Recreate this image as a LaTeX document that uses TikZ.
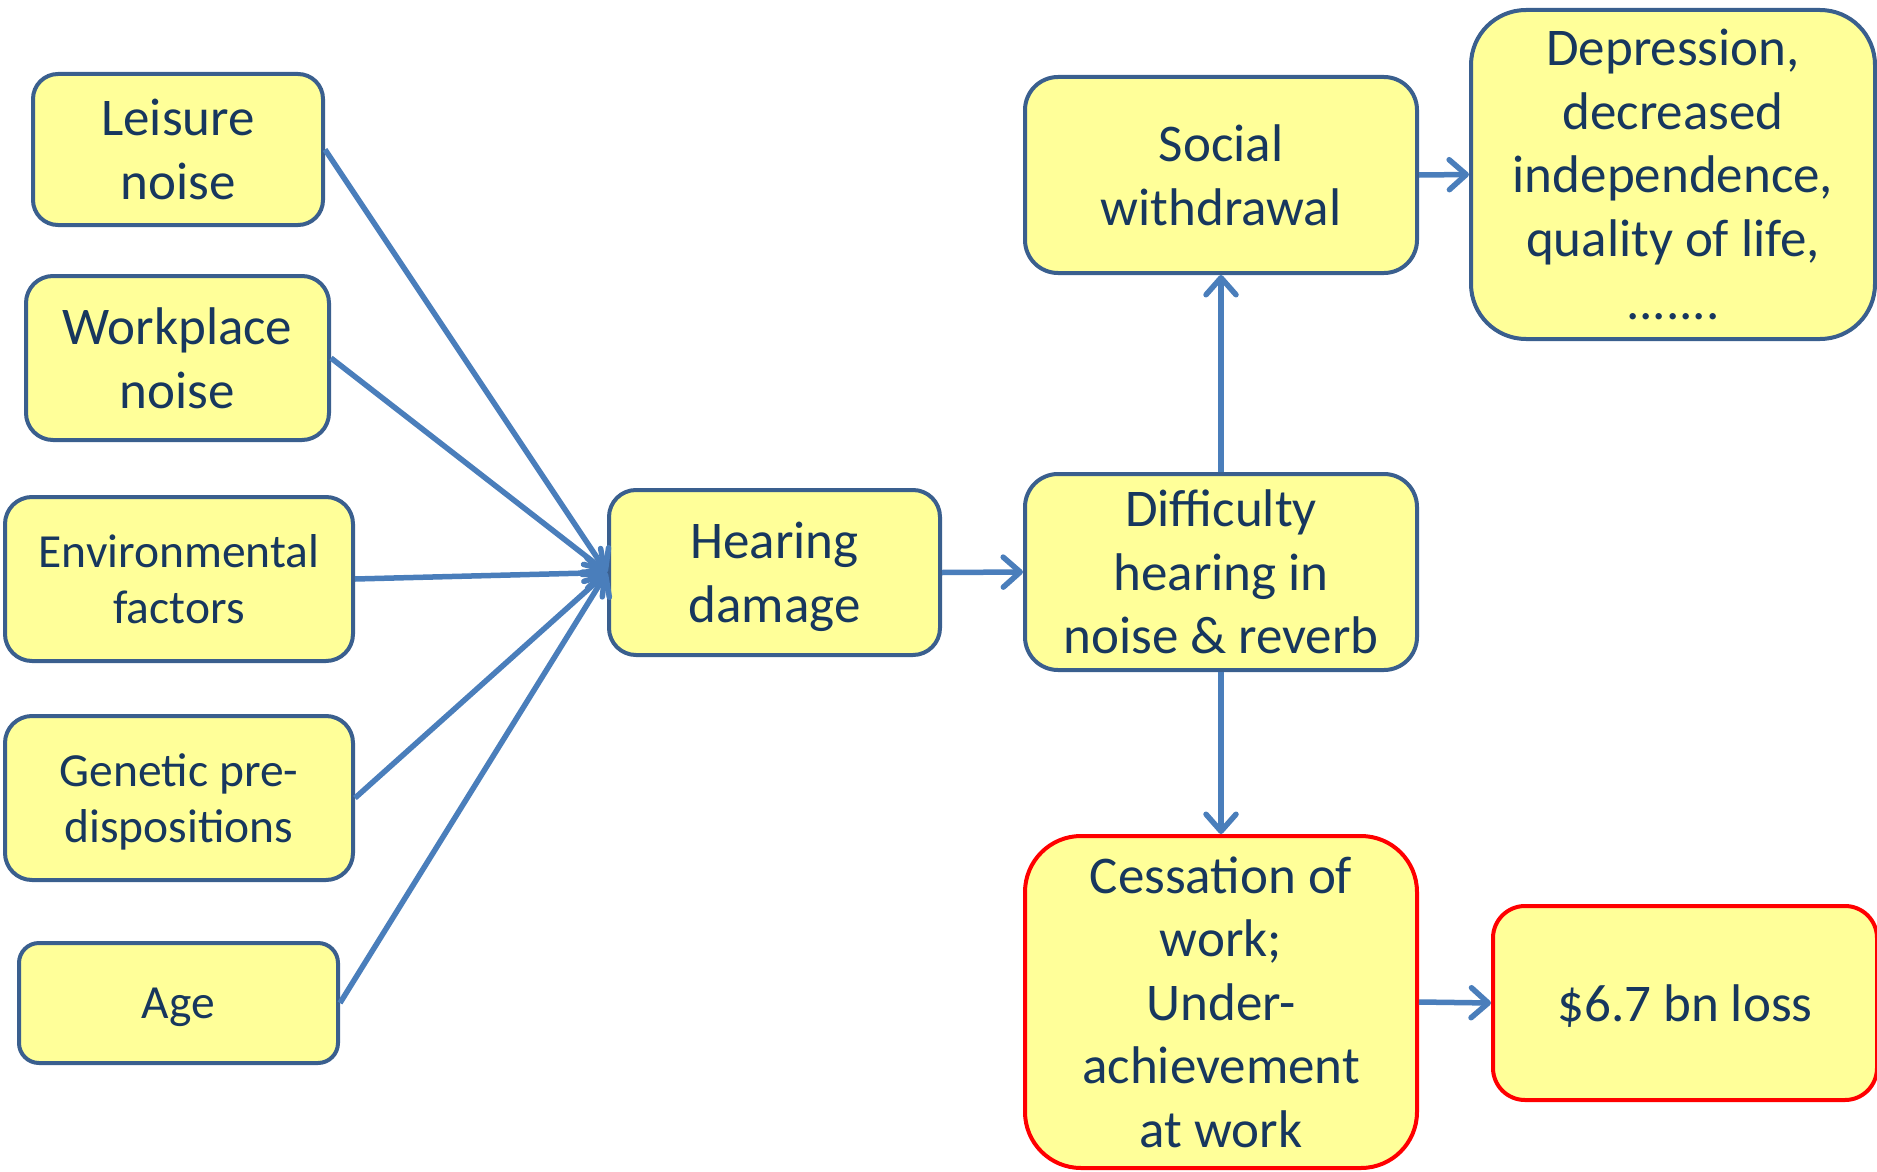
\documentclass[tikz,border=0pt]{standalone}
\usepackage{fontspec}
\setmainfont{Carlito}
\usetikzlibrary{arrows.meta}
\definecolor{boxfill}{HTML}{FFFF99}
\definecolor{bordercol}{HTML}{3A5F8E}
\definecolor{arrowcol}{HTML}{4A7EBB}
\definecolor{textcol}{HTML}{17375E}
\definecolor{redcol}{HTML}{FF0000}
\tikzset{
  box/.style={draw=bordercol, fill=boxfill, line width=4pt, align=center, inner sep=0pt,
    text depth=0pt, text=textcol, font=\fontsize{53}{63.5}\selectfont},
  smallbox/.style={box, font=\fontsize{47.5}{56}\selectfont},
  redbox/.style={box, draw=redcol},
  arr/.style={draw=arrowcol, line width=5.5pt, -{Straight Barb[length=17pt,width=30pt,round]}}
}
\begin{document}
\begin{tikzpicture}[x=1pt,y=-1pt]
\useasboundingbox (0,0) rectangle (1877,1172);
\node[box, minimum width=290pt, minimum height=151pt, rounded corners=25pt] (leis) at (178,149.5) {Leisure\\noise};
\node[box, minimum width=303pt, minimum height=164pt, rounded corners=27pt] (work) at (177.5,358) {Workplace\\noise};
\node[smallbox, minimum width=348pt, minimum height=164pt, rounded corners=27pt] (env) at (179,579) {Environmental\\factors};
\node[smallbox, minimum width=348pt, minimum height=164pt, rounded corners=27pt] (gen) at (179,798) {Genetic pre-\\dispositions};
\node[smallbox, minimum width=319pt, minimum height=120pt, rounded corners=20pt] (age) at (178.5,1003) {Age};
\node[box, minimum width=331pt, minimum height=165pt, rounded corners=27pt] (hd) at (774.5,572.5) {Hearing\\damage};
\node[box, minimum width=392pt, minimum height=196pt, rounded corners=33pt] (soc) at (1221,175) {Social\\withdrawal};
\node[box, minimum width=404pt, minimum height=329pt, rounded corners=55pt] (dep) at (1673,174.5) {Depression,\\decreased\\independence,\\quality of life,\\.......};
\node[box, minimum width=392pt, minimum height=196pt, rounded corners=33pt] (diff) at (1221,572) {Difficulty\\hearing in\\noise \& reverb};
\node[redbox, minimum width=392pt, minimum height=332pt, rounded corners=56pt] (cess) at (1221,1002) {Cessation of\\work;\\Under-\\achievement\\at work};
\node[redbox, minimum width=384pt, minimum height=194pt, rounded corners=32pt] (loss) at (1685,1003) {\$6.7 bn loss};
\draw[arr] (leis.east) -- (hd.west);
\draw[arr] (work.east) -- (hd.west);
\draw[arr] (env.east) -- (hd.west);
\draw[arr] (gen.east) -- (hd.west);
\draw[arr] (age.east) -- (hd.west);
\draw[arr] (hd.east) -- (diff.west);
\draw[arr] (diff.north) -- (soc.south);
\draw[arr] (diff.south) -- (cess.north);
\draw[arr] (soc.east) -- (dep.west);
\draw[arr] (cess.east) -- (loss.west);
\end{tikzpicture}
\end{document}
